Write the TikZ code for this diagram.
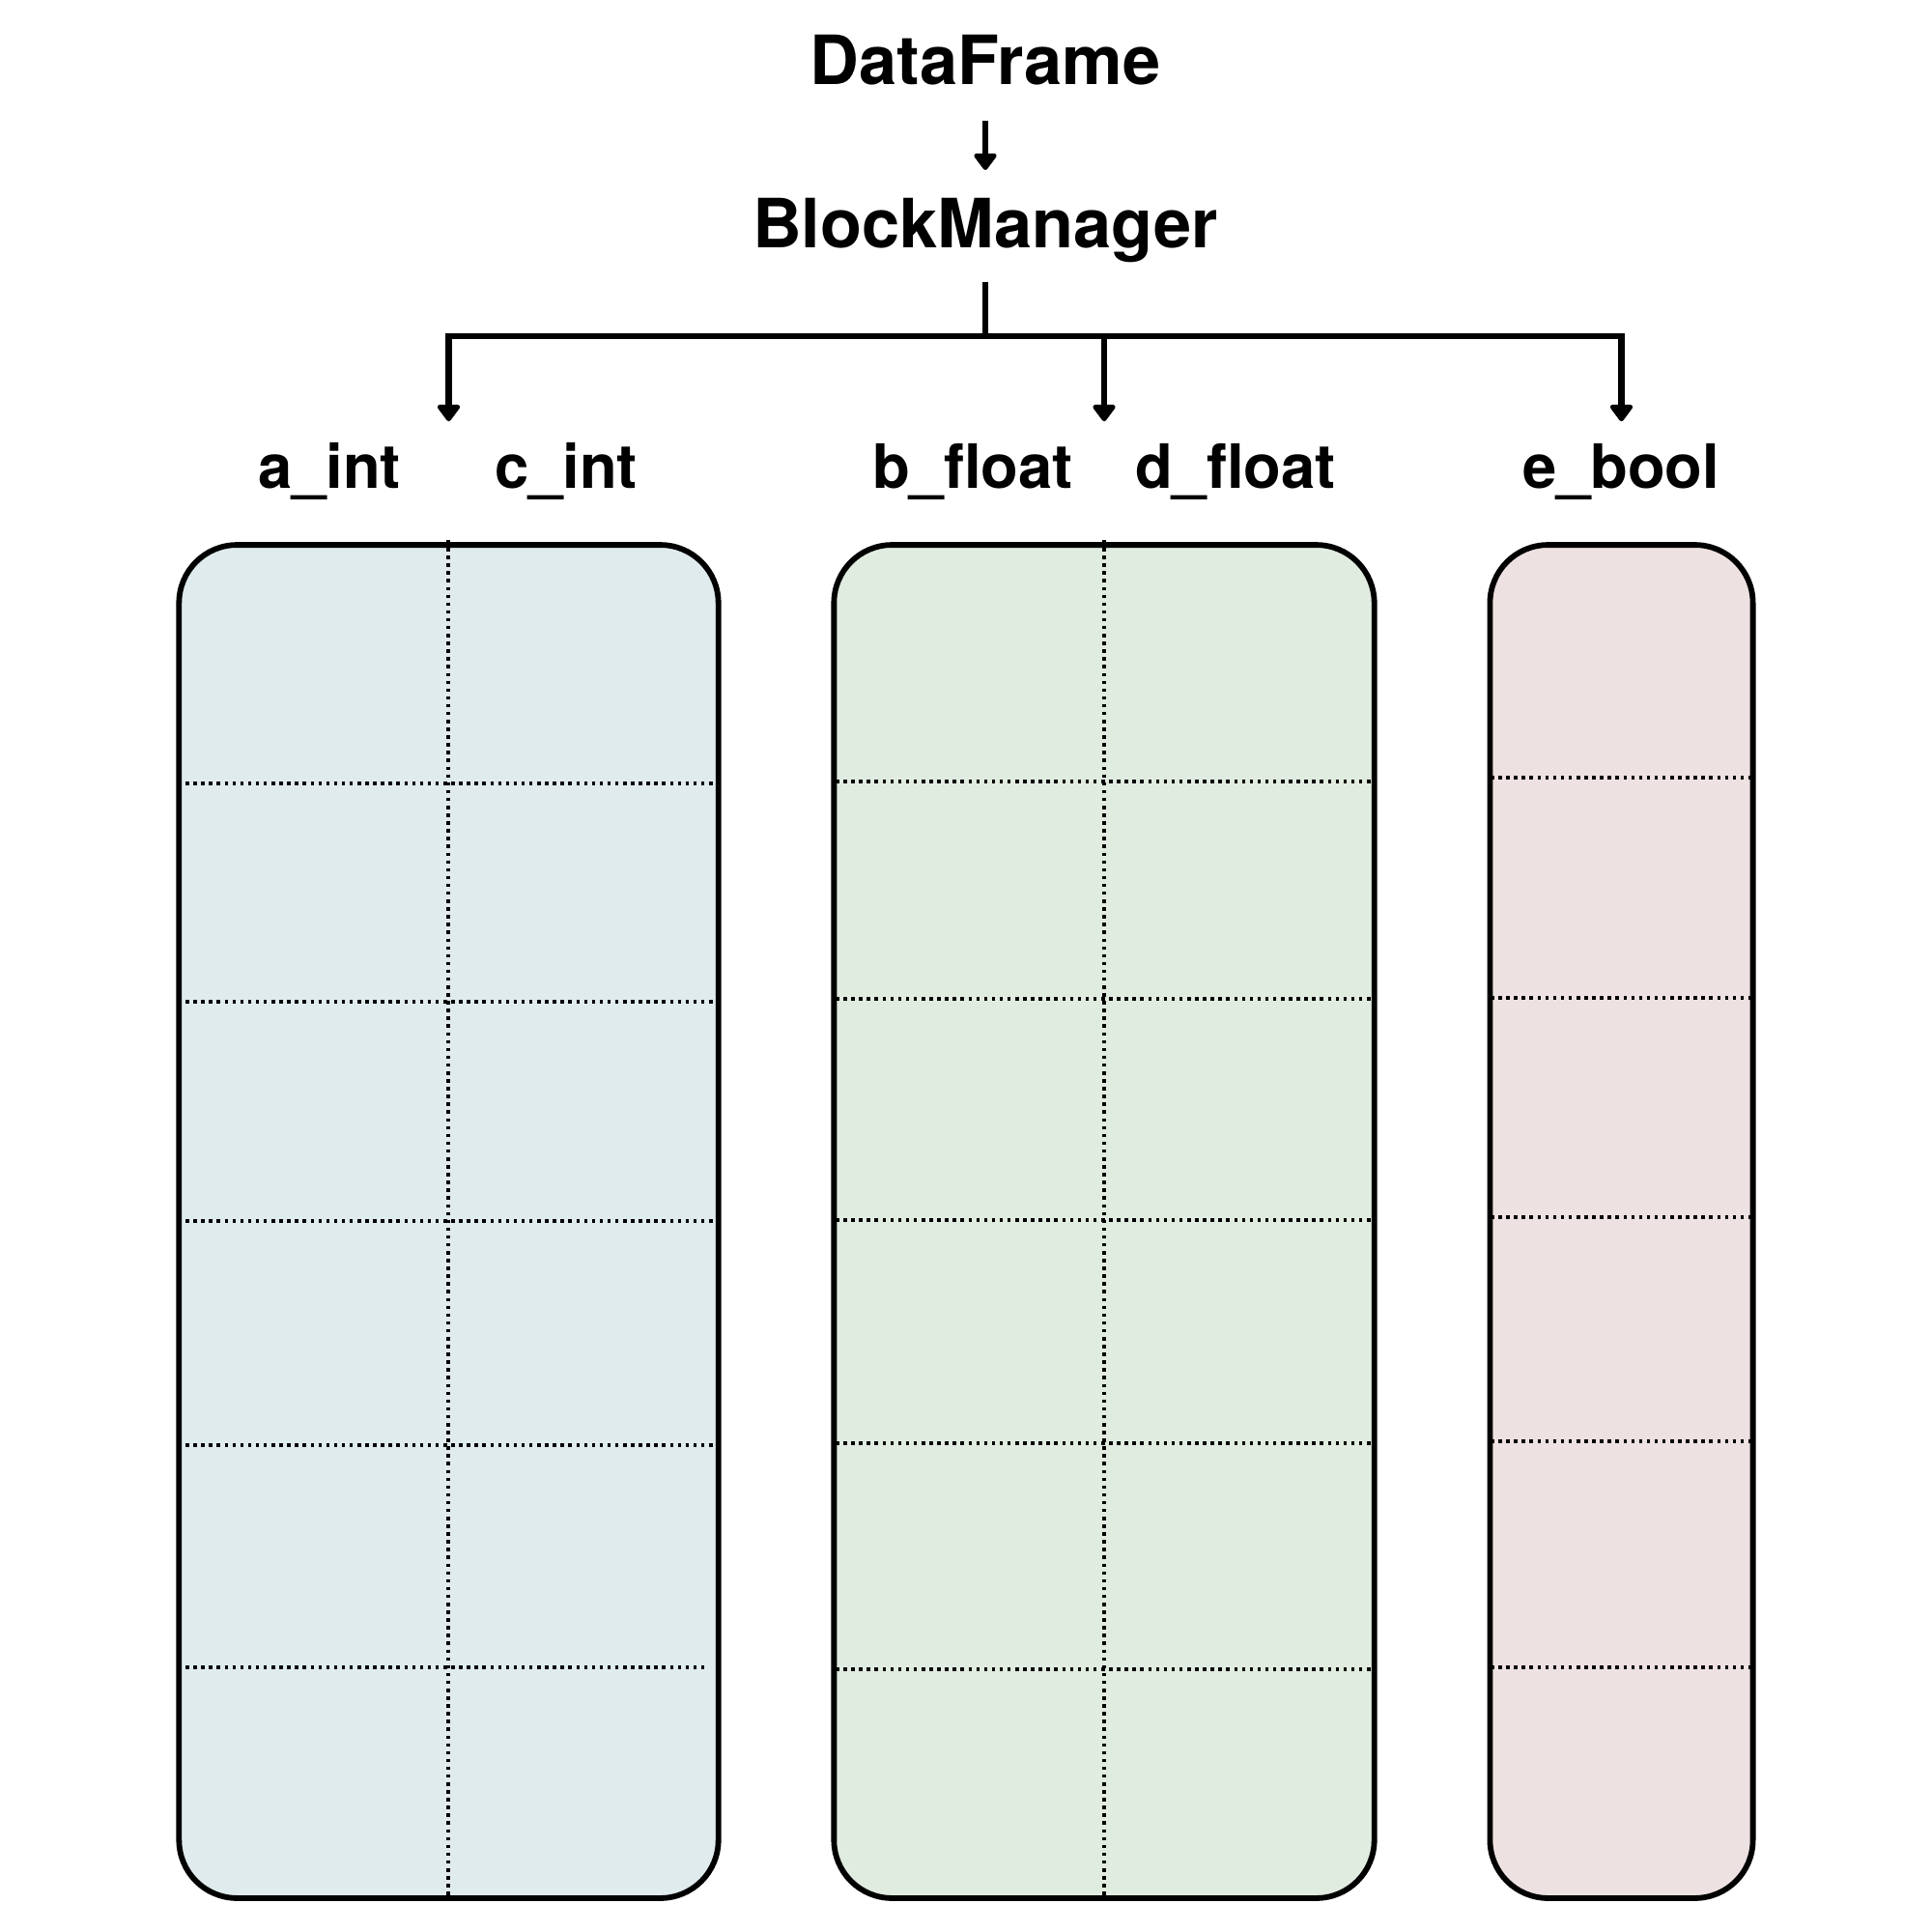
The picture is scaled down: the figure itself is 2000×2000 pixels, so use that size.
\documentclass[tikz,border=0pt]{standalone}
\usepackage{fontspec}
\setmainfont{TeX Gyre Heros}
\usetikzlibrary{arrows.meta}
\definecolor{cint}{RGB}{224,235,237}
\definecolor{cfloat}{RGB}{225,236,224}
\definecolor{cbool}{RGB}{237,226,225}
\begin{document}
\begin{tikzpicture}[x=0.01cm,y=-0.01cm,
  title/.style={font=\fontsize{20pt}{22pt}\selectfont\bfseries, inner sep=0pt, anchor=base},
  colname/.style={font=\fontsize{18pt}{20pt}\selectfont\bfseries, inner sep=0pt, anchor=base},
  conn/.style={line width=1.9pt},
  arr/.style={conn, -{Triangle[length=5.4pt,width=7.6pt,round]}},
  blk/.style={draw, line width=1.65pt, rounded corners=0.6cm, inner sep=0pt, minimum height=14cm},
  gridline/.style={line width=1.15pt, dash pattern=on 1pt off 1.3pt}]
\useasboundingbox (0,0) rectangle (2000,2000);

% titles
\node[title] (df) at (1020,88) {DataFrame};
\node[title] (bm) at (1020,256) {BlockManager};
\draw[arr, shorten <=0.36cm, shorten >=0.28cm] (df.south) -- (df.south |- bm.north);

% blocks
\node[blk, fill=cint, minimum width=5.58cm] (blk1) at (464.5,1264.5) {};
\node[blk, fill=cfloat, minimum width=5.59cm] (blk2) at (1143,1264.5) {};
\node[blk, fill=cbool, minimum width=2.72cm] (blk3) at (1678.5,1264.5) {};

% tree connectors
\coordinate (hub) at (1020,348);
\draw[conn, shorten <=0.2cm] (bm.south) -- (hub);
\draw[arr, shorten >=1.25cm] (hub) -| (blk1.north);
\draw[arr, shorten >=1.25cm] (hub) -| (blk3.north);
\draw[arr, shorten >=1.25cm] (hub -| blk2.north) -- (blk2.north);

% column labels
\node[colname] (a) at (341,505) {a\_int};
\node[colname] (c) at (586,505) {c\_int};
\node[colname] (b) at (1007,505) {b\_float};
\node[colname] (d) at (1279,505) {d\_float};
\node[colname] (e) at (1678,505) {e\_bool};

% grid lines block 1
\draw[gridline] (464,559) -- (464,1966);
\foreach \yy in {811,1037,1264,1496} \draw[gridline] (184,\yy) -- (745,\yy);
\draw[gridline] (184,1726) -- (734,1726);

% grid lines block 2
\draw[gridline] (1143,559) -- (1143,1966);
\foreach \yy in {809,1034} \draw[gridline] (865,\yy) -- (1423,\yy);
\foreach \yy in {1263,1494,1728} \draw[gridline] (865,\yy) -- (1420,\yy);

% grid lines block 3
\foreach \yy in {805,1033,1260,1492,1726} \draw[gridline] (1543,\yy) -- (1814,\yy);
\end{tikzpicture}
\end{document}
